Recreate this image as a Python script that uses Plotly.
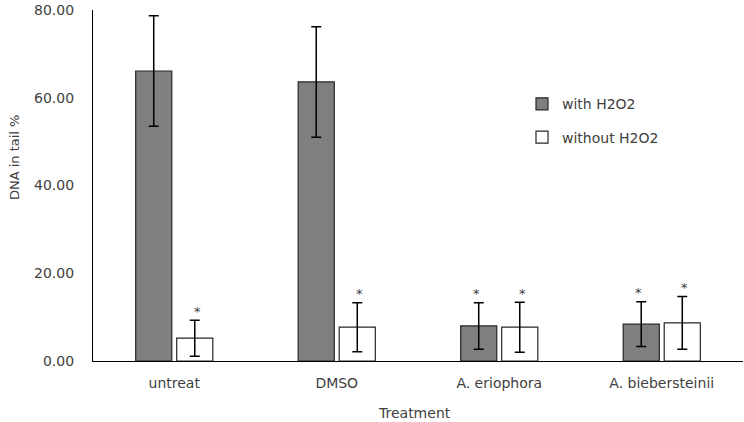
import plotly.graph_objects as go

categories = ["untreat", "DMSO", "A. eriophora", "A. biebersteinii"]
with_h2o2 = [66.1, 63.6, 8.0, 8.4]
with_h2o2_err = [12.6, 12.6, 5.3, 5.1]
without_h2o2 = [5.2, 7.7, 7.7, 8.7]
without_h2o2_err = [4.1, 5.6, 5.7, 6.0]
with_star = [False, False, True, True]
without_star = [True, True, True, True]
y_ticks = [0, 20, 40, 60, 80]
y_ticklabels = ["0.00", "20.00", "40.00", "60.00", "80.00"]

FONT = "DejaVu Sans"
TXT = "#404040"
FS = 14

fig = go.Figure()
fig.add_bar(
    name="with H2O2", x=categories, y=with_h2o2, legendgroup="a",
    marker=dict(color="#7f7f7f", line=dict(color="#262626", width=1.2)),
    error_y=dict(type="data", array=with_h2o2_err, color="#000000", thickness=1.5, width=5),
)
fig.add_bar(
    name="without H2O2", x=categories, y=without_h2o2, legendgroup="b",
    marker=dict(color="#ffffff", line=dict(color="#262626", width=1.2)),
    error_y=dict(type="data", array=without_h2o2_err, color="#000000", thickness=1.5, width=5),
)

annotations = []
for i, c in enumerate(categories):
    if with_star[i]:
        annotations.append(dict(x=c, y=with_h2o2[i] + with_h2o2_err[i], xref="x", yref="y",
                                text="*", showarrow=False, xshift=-23, yshift=9,
                                font=dict(family=FONT, size=13, color="#404040")))
    if without_star[i]:
        annotations.append(dict(x=c, y=without_h2o2[i] + without_h2o2_err[i], xref="x", yref="y",
                                text="*", showarrow=False, xshift=23, yshift=9,
                                font=dict(family=FONT, size=13, color="#404040")))

annotations.append(dict(text="DNA in tail %", xref="paper", yref="paper", x=-0.1215, y=0.581,
                        textangle=-90, showarrow=False, xanchor="center", yanchor="middle",
                        font=dict(family=FONT, size=13, color=TXT)))
annotations.append(dict(text="Treatment", xref="paper", yref="paper", x=0.494, y=-0.148,
                        showarrow=False, xanchor="center", yanchor="middle",
                        font=dict(family=FONT, size=FS, color=TXT)))

fig.update_layout(
    width=744, height=422,
    margin=dict(l=93, r=1, t=10, b=61, autoexpand=False),
    paper_bgcolor="white", plot_bgcolor="white",
    barmode="group", bargap=0.495, bargroupgap=0.12,
    font=dict(family=FONT, size=FS, color=TXT),
    showlegend=True,
    legend=dict(x=0.66, y=0.777, xanchor="left", yanchor="top",
                font=dict(family=FONT, size=FS, color=TXT),
                tracegroupgap=12, itemwidth=30, bgcolor="rgba(0,0,0,0)"),
    annotations=annotations,
    xaxis=dict(
        automargin=False,
        showline=True, linecolor="#000000", linewidth=1.2,
        ticks="outside", ticklen=9, tickcolor="rgba(0,0,0,0)",
        tickfont=dict(family=FONT, size=FS, color=TXT),
    ),
    yaxis=dict(
        automargin=False,
        range=[0, 80], tickvals=y_ticks, ticktext=y_ticklabels,
        showline=True, linecolor="#000000", linewidth=1.2, showgrid=False, zeroline=False,
        ticks="outside", ticklen=15, tickcolor="rgba(0,0,0,0)",
        tickfont=dict(family=FONT, size=FS, color=TXT),
    ),
)

fig.write_html("out.html", config={"displayModeBar": False},
               post_script="document.body.style.margin='0px';")
